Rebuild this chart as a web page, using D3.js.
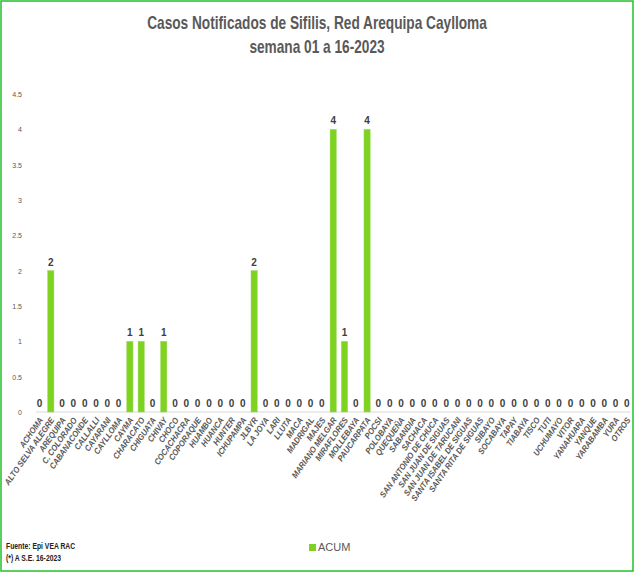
<!DOCTYPE html><html><head><meta charset="utf-8"><script src="https://cdn.jsdelivr.net/npm/d3@7"></script>
<style>body{margin:0;background:#fff}</style></head><body><svg id="c" width="634" height="572"></svg>
<script>
const categories=["ACHOMA","ALTO SELVA ALEGRE","AREQUIPA","C. COLORADO","CABANACONDE","CALLALLI","CAYARANI","CAYLLOMA","CAYMA","CHARACATO","CHIGUATA","CHIVAY","CHOCO","COCACHACRA","COPORAQUE","HUAMBO","HUANCA","HUNTER","ICHUPAMPA","JLBYR","LA JOYA","LARI","LLUTA","MACA","MADRIGAL","MAJES","MARIANO MELGAR","MIRAFLORES","MOLLEBAYA","PAUCARPATA","POCSI","POLOBAYA","QUEQUEÑA","SABANDIA","SACHACA","SAN ANTONIO DE CHUCA","SAN JUAN DE SIGUAS","SAN JUAN DE TARUCANI","SANTA ISABEL DE SIGUAS","SANTA RITA DE SIGUAS","SIBAYO","SOCABAYA","TAPAY","TIABAYA","TISCO","TUTI","UCHUMAYO","VITOR","YANAHUARA","YANQUE","YARABAMBA","YURA","OTROS"];
const acum=[0,2,0,0,0,0,0,0,1,1,0,1,0,0,0,0,0,0,0,2,0,0,0,0,0,0,4,1,0,4,0,0,0,0,0,0,0,0,0,0,0,0,0,0,0,0,0,0,0,0,0,0,0];
const yTicks=[0,0.5,1,1.5,2,2.5,3,3.5,4,4.5];
const svg=d3.select("#c");
svg.append("rect").attr("x",1).attr("y",1).attr("width",632).attr("height",570).attr("fill","none").attr("stroke","#22c02a").attr("stroke-width",1.5);
const x=d3.scaleBand().domain(categories).range([36.4,630]).paddingInner(0.45).paddingOuter(0);
const y=d3.scaleLinear().domain([0,4.5]).range([412,94]);
const g=svg.append("g");
g.append("line").attr("x1",36).attr("x2",630).attr("y1",y(0)).attr("y2",y(0)).attr("stroke","#d9d9d9");
yTicks.forEach(t=>g.append("text").attr("x",22).attr("y",y(t)+3).attr("text-anchor","end").attr("font-size",7).attr("fill","#595959").attr("font-family","Liberation Sans, Arial").text(t));
g.selectAll("rect.b").data(categories).join("rect").attr("x",d=>x(d)).attr("width",x.bandwidth()).attr("y",(d,i)=>y(acum[i])).attr("height",(d,i)=>y(0)-y(acum[i])).attr("fill","#7ed321").attr("stroke","#9bd85a").attr("stroke-width",0.5);
g.selectAll("text.v").data(categories).join("text").attr("x",d=>x(d)+x.bandwidth()/2).attr("y",(d,i)=>y(acum[i])-5).attr("text-anchor","middle").attr("font-size",10).attr("font-weight","bold").attr("fill","#404040").attr("font-family","Liberation Sans, Arial").text((d,i)=>acum[i]);
g.selectAll("text.l").data(categories).join("text").attr("transform",d=>`translate(${x(d)+x.bandwidth()/2+4},${y(0)+8}) rotate(-55) scale(0.9,1)`).attr("text-anchor","end").attr("font-size",8.5).attr("font-style","italic").attr("font-weight","bold").attr("fill","#595959").attr("font-family","Liberation Sans, Arial").text(d=>d);
const tf="Liberation Sans, Arial";
svg.append("text").attr("transform","translate(317,29) scale(0.76,1)").attr("text-anchor","middle").attr("font-size",18).attr("font-weight","bold").attr("fill","#595959").attr("font-family",tf).text("Casos Notificados de Sifilis, Red Arequipa Caylloma");
svg.append("text").attr("transform","translate(317,53) scale(0.76,1)").attr("text-anchor","middle").attr("font-size",18).attr("font-weight","bold").attr("fill","#595959").attr("font-family",tf).text("semana 01 a 16-2023");
svg.append("rect").attr("x",309).attr("y",544).attr("width",7).attr("height",7).attr("fill","#7ed321");
svg.append("text").attr("x",318).attr("y",551).attr("font-size",11).attr("fill","#595959").attr("font-family",tf).text("ACUM");
svg.append("text").attr("transform","translate(6,549) scale(0.8,1)").attr("font-size",8.5).attr("font-weight","bold").attr("fill","#222").attr("font-family",tf).text("Fuente: Epi VEA RAC");
svg.append("text").attr("transform","translate(6,561) scale(0.8,1)").attr("font-size",8.5).attr("font-weight","bold").attr("fill","#222").attr("font-family",tf).text("(*) A S.E. 16-2023");
</script></body></html>
